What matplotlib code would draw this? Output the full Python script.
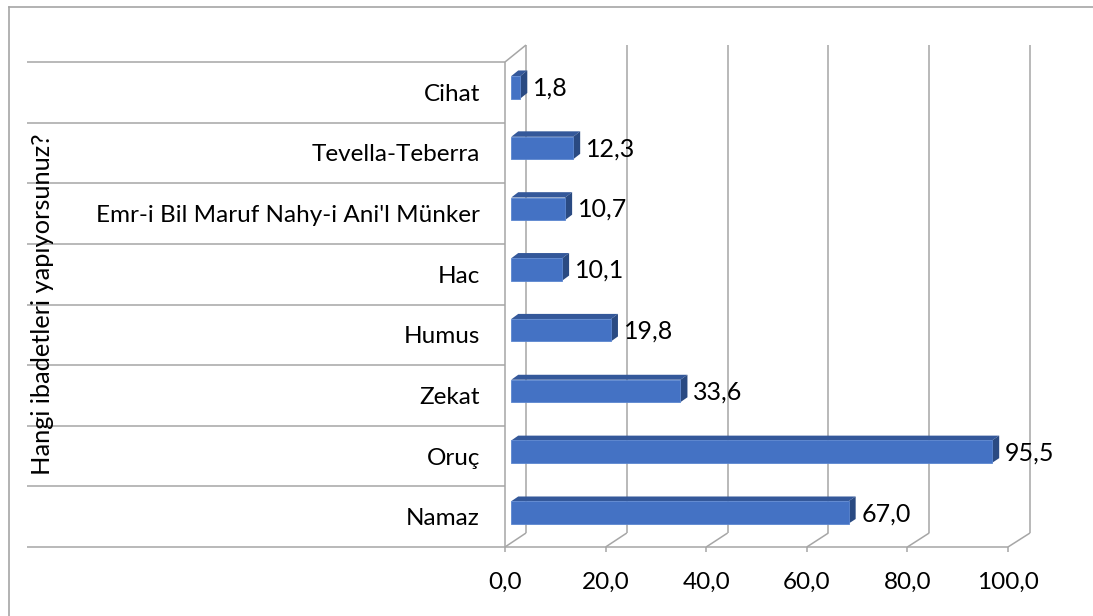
import matplotlib.pyplot as plt
from matplotlib.patches import Polygon
from matplotlib.lines import Line2D

categories = ["Namaz", "Oruç", "Zekat", "Humus", "Hac",
              "Emr-i Bil Maruf Nahy-i Ani'l Münker", "Tevella-Teberra", "Cihat"]
values = [67.0, 95.5, 33.6, 19.8, 10.1, 10.7, 12.3, 1.8]
x_ticks = [0, 20, 40, 60, 80, 100]
axis_title = "Hangi ibadetleri yapıyorsunuz?"

plt.rcParams["font.family"] = ["Lato", "DejaVu Sans"]

W, H = 1093, 616
fig = plt.figure(figsize=(W / 100, H / 100), dpi=100)
fig.patch.set_facecolor("white")

# front plane of the 3D box, in pixels
left_px, right_px, top_px, floor_px = 505, 1008, 62, 547
ax = fig.add_axes([left_px / W, (H - floor_px) / H,
                   (right_px - left_px) / W, (floor_px - top_px) / H])
n = len(categories)
ax.set_xlim(0, 100)
ax.set_ylim(-0.5, n - 0.5)
ax.axis("off")
px_x = (right_px - left_px) / 100
px_y = (floor_px - top_px) / n

grid_col = "#a6a6a6"
lw = 1.1


def depth(x, y, d):
    # move a front-plane point a fraction d toward the back wall
    ddx = (21 + 1 * x / 100) / px_x
    ddy = (14 + 3 * (y + 0.5) / n) / px_y
    return x + d * ddx, y + d * ddy


def line(p, q, **kw):
    ax.add_line(Line2D([p[0], q[0]], [p[1], q[1]], color=grid_col, lw=lw,
                       clip_on=False, solid_capstyle="butt", **kw))


# back wall gridlines, floor diagonals and ticks
for t in x_ticks:
    line(depth(t, -0.5, 1), depth(t, n - 0.5, 1), zorder=1)
    line((t, -0.5), depth(t, -0.5, 1), zorder=1)
    line((t, -0.5), (t, -0.5 - 5 / px_y), zorder=1)
    ax.text(t, -0.5 - 35 / px_y, f"{t:.1f}".replace(".", ","), ha="center",
            va="center", fontsize=17.5, color="black")

# floor front edge and left wall
line((0, -0.5), (100, -0.5), zorder=1)
line((0, -0.5), (0, n - 0.5), zorder=1)
line((0, n - 0.5), depth(0, n - 0.5, 1), zorder=1)
for k in range(n + 1):
    line(((27 - left_px) / px_x, k - 0.5), (0, k - 0.5), zorder=1)

# 3D bars
h = 0.37
d0, d1 = 0.3, 0.63
for i, (cat, v) in enumerate(zip(categories, values)):
    yb, yt = i - h / 2, i + h / 2
    front = [depth(0, yb, d0), depth(v, yb, d0), depth(v, yt, d0), depth(0, yt, d0)]
    top = [depth(0, yt, d0), depth(v, yt, d0), depth(v, yt, d1), depth(0, yt, d1)]
    side = [depth(v, yb, d0), depth(v, yb, d1), depth(v, yt, d1), depth(v, yt, d0)]
    ax.add_patch(Polygon(top, closed=True, facecolor="#34589a", edgecolor="none",
                         zorder=3, clip_on=False))
    ax.add_patch(Polygon(side, closed=True, facecolor="#2a4a82", edgecolor="none",
                         zorder=3, clip_on=False))
    ax.add_patch(Polygon(front, closed=True, facecolor="#4472c4", edgecolor="#5b86d0",
                         lw=0.6, zorder=4, clip_on=False))
    lx, ly = depth(v, i, d1)
    ax.text(lx + 6 / px_x, ly - 6 / px_y, f"{v:.1f}".replace(".", ","), ha="left",
            va="center", fontsize=18, color="black", zorder=5)
    ax.text(-25 / px_x, i - 2 / px_y, cat, ha="right", va="center", fontsize=17.5,
            color="black")

ax.text((43 - left_px) / px_x, (n - 1) / 2, axis_title, rotation=90, ha="center",
        va="center", fontsize=18.3, color="black")

# outer chart border (left and top edges visible)
fig.add_artist(Line2D([8.5 / W, 8.5 / W], [0, 1 - 6.5 / H], color=grid_col, lw=1.2,
                      transform=fig.transFigure))
fig.add_artist(Line2D([8.5 / W, 1], [1 - 6.5 / H, 1 - 6.5 / H], color=grid_col, lw=1.2,
                      transform=fig.transFigure))

fig.savefig("out.png", dpi=100, facecolor="white")
